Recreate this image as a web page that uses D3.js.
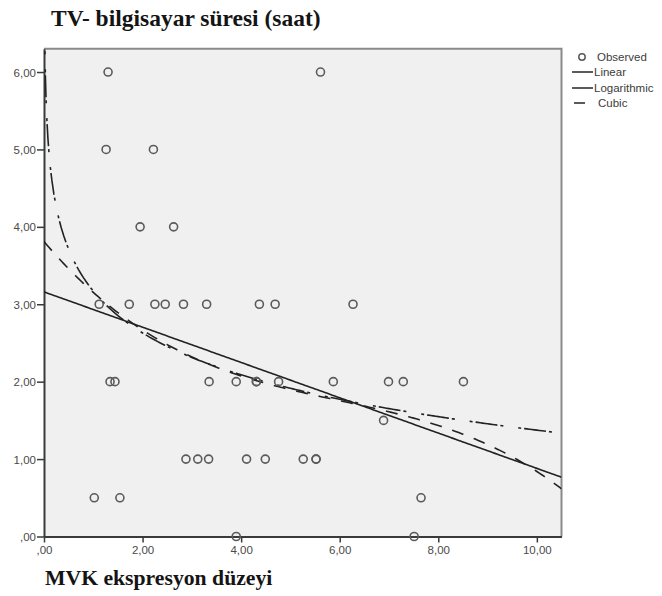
<!DOCTYPE html>
<html>
<head>
<meta charset="utf-8">
<script src="https://cdn.jsdelivr.net/npm/d3@7"></script>
<style>
  html, body { margin: 0; padding: 0; background: #ffffff; }
  svg { display: block; }
</style>
</head>
<body>
<svg id="chart" width="662" height="596"></svg>
<script>
// Observed cases: MVK expression level (x) vs. daily TV / computer time in hours (y)
const mvkLevel = [
  1.30, 5.61,
  1.26, 2.22,
  1.95, 2.63,
  1.12, 1.73, 2.25, 2.46, 2.83, 3.30, 4.37, 4.69, 6.27,
  1.34, 1.44, 3.35, 3.90, 4.31, 4.31, 4.76, 5.87, 6.99, 7.29, 8.51,
  6.89,
  2.88, 3.12, 3.34, 4.11, 4.49, 5.26, 5.52, 5.52,
  1.02, 1.54, 7.65,
  3.90, 7.51
];
const screenHours = [
  6, 6,
  5, 5,
  4, 4,
  3, 3, 3, 3, 3, 3, 3, 3, 3,
  2, 2, 2, 2, 2, 2, 2, 2, 2, 2, 2,
  1.5,
  1, 1, 1, 1, 1, 1, 1, 1,
  0.5, 0.5, 0.5,
  0, 0
];

// Curve-fit model coefficients
const linearCoef = [3.16, -0.228];                       // b0 + b1*x
const logCoef = [3.17, -0.78];                           // b0 + b1*ln(x)
const cubicCoef = [3.81, -0.7535, 0.10271, -0.005706];   // b0 + b1*x + b2*x^2 + b3*x^3

const xTicks = [0, 2, 4, 6, 8, 10];
const xTickLabels = [",00", "2,00", "4,00", "6,00", "8,00", "10,00"];
const yTicks = [0, 1, 2, 3, 4, 5, 6];
const yTickLabels = [",00", "1,00", "2,00", "3,00", "4,00", "5,00", "6,00"];

const legendLabels = ["Observed", "Linear", "Logarithmic", "Cubic"];

(function draw() {
  const svg = d3.select("#chart");
  const pL = 44, pR = 561.5, pT = 48.8, pB = 536.5;

  const x = d3.scaleLinear().domain([0, 10.5]).range([pL, pR]);
  const y = d3.scaleLinear().domain([0, 6.3]).range([pB, pT]);

  const clipId = "plotClip";
  svg.append("defs").append("clipPath").attr("id", clipId)
    .append("rect").attr("x", pL).attr("y", pT)
    .attr("width", pR - pL).attr("height", pB - pT);

  // plot background
  svg.append("rect")
    .attr("x", pL).attr("y", pT)
    .attr("width", pR - pL).attr("height", pB - pT)
    .attr("fill", "#f0f0f0");

  // top and right frame
  svg.append("path")
    .attr("d", `M${pL},${pT}H${pR}V${pB}`)
    .attr("fill", "none").attr("stroke", "#8a8a8a").attr("stroke-width", 2);

  // axes
  const fmtX = d => xTickLabels[xTicks.indexOf(d)];
  const fmtY = d => yTickLabels[yTicks.indexOf(d)];

  const xAxis = svg.append("g")
    .attr("transform", `translate(0,${pB})`)
    .call(d3.axisBottom(x).tickValues(xTicks).tickFormat(fmtX).tickSize(6).tickSizeOuter(0).tickPadding(3));
  const yAxis = svg.append("g")
    .attr("transform", `translate(${pL},0)`)
    .call(d3.axisLeft(y).tickValues(yTicks).tickFormat(fmtY).tickSize(7).tickSizeOuter(0).tickPadding(1));

  [xAxis, yAxis].forEach(g => {
    g.select(".domain").attr("stroke", "#3a3a3a").attr("stroke-width", 2);
    g.selectAll(".tick line").attr("stroke", "#3a3a3a").attr("stroke-width", 1.5);
    g.selectAll(".tick text")
      .attr("fill", "#4a4a4a")
      .style("font-family", "'Liberation Sans', Arial, sans-serif")
      .style("font-size", "11.5px");
  });
  yAxis.selectAll(".tick text").attr("dy", "0.36em");

  // fitted curves
  const plot = svg.append("g").attr("clip-path", `url(#${clipId})`);

  const xsGrid = d3.range(0, 10.5001, 0.05);
  const xsLog = [0.005, 0.01, 0.015, 0.02, 0.03, 0.04, 0.06, 0.08, 0.1, 0.13, 0.16, 0.2, 0.25, 0.3]
    .concat(d3.range(0.35, 10.5001, 0.05));

  const line = d3.line().x(d => x(d[0])).y(d => y(d[1]));

  const linearPts = xsGrid.map(v => [v, linearCoef[0] + linearCoef[1] * v]);
  const logPts = xsLog.map(v => [v, logCoef[0] + logCoef[1] * Math.log(v)]);
  const cubicPts = xsGrid.map(v => [v, cubicCoef[0] + cubicCoef[1] * v + cubicCoef[2] * v * v + cubicCoef[3] * v * v * v]);

  plot.append("path").datum(linearPts).attr("d", line)
    .attr("fill", "none").attr("stroke", "#222").attr("stroke-width", 1.6);
  plot.append("path").datum(logPts).attr("d", line)
    .attr("fill", "none").attr("stroke", "#222").attr("stroke-width", 1.6)
    .attr("stroke-dasharray", "3,3,22,3,3,15");
  plot.append("path").datum(cubicPts).attr("d", line)
    .attr("fill", "none").attr("stroke", "#222").attr("stroke-width", 1.6)
    .attr("stroke-dasharray", "12,11");

  // observed points
  svg.append("g").selectAll("circle")
    .data(d3.range(mvkLevel.length))
    .join("circle")
    .attr("cx", i => x(mvkLevel[i]))
    .attr("cy", i => y(screenHours[i]))
    .attr("r", 4)
    .attr("fill", "none")
    .attr("stroke", "#5a5a5a")
    .attr("stroke-width", 1.6);

  // legend
  const lg = svg.append("g")
    .style("font-family", "'Liberation Sans', Arial, sans-serif")
    .style("font-size", "11.5px")
    .attr("fill", "#3c3c3c");
  const rowY = [57, 72, 88, 103];
  lg.append("circle").attr("cx", 582).attr("cy", rowY[0]).attr("r", 3.2)
    .attr("fill", "none").attr("stroke", "#5a5a5a").attr("stroke-width", 1.5);
  lg.append("line").attr("x1", 572).attr("x2", 593).attr("y1", rowY[1]).attr("y2", rowY[1])
    .attr("stroke", "#333").attr("stroke-width", 1.6);
  lg.append("line").attr("x1", 572).attr("x2", 593).attr("y1", rowY[2]).attr("y2", rowY[2])
    .attr("stroke", "#333").attr("stroke-width", 1.6);
  lg.append("line").attr("x1", 574).attr("x2", 585).attr("y1", rowY[3]).attr("y2", rowY[3])
    .attr("stroke", "#333").attr("stroke-width", 1.6);
  const textX = [597, 594, 594, 598];
  legendLabels.forEach((t, i) => {
    lg.append("text").attr("x", textX[i]).attr("y", rowY[i]).attr("dy", "0.35em").text(t);
  });

  // titles
  svg.append("text")
    .attr("x", 51).attr("y", 26)
    .style("font-family", "'Liberation Serif', 'Times New Roman', serif")
    .style("font-weight", "bold").style("font-size", "23.5px")
    .attr("fill", "#141414")
    .text("TV- bilgisayar süresi (saat)");

  svg.append("text")
    .attr("x", 45).attr("y", 585)
    .style("font-family", "'Liberation Serif', 'Times New Roman', serif")
    .style("font-weight", "bold").style("font-size", "21.7px")
    .attr("fill", "#141414")
    .text("MVK ekspresyon düzeyi");
})();
</script>
</body>
</html>
